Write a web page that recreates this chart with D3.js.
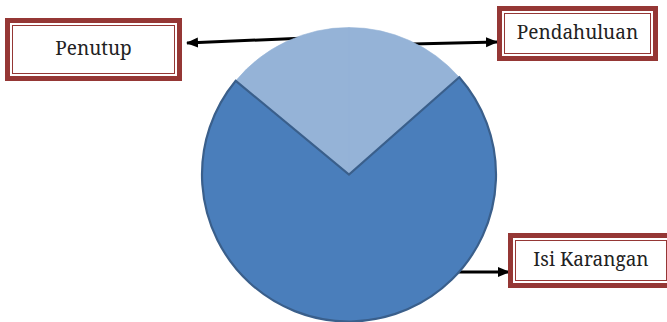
<!DOCTYPE html>
<html>
<head>
<meta charset="utf-8">
<script src="https://cdn.jsdelivr.net/npm/d3@7"></script>
<style>
  html, body { margin: 0; padding: 0; background: #fff; }
  svg { display: block; }
</style>
</head>
<body>
<div id="chart"></div>
<script>
// pie data: share of each part of an essay
const categories = ["Pendahuluan", "Isi Karangan", "Penutup"];
const values = [13.5, 72.5, 14];

const width = 667, height = 322;
const cx = 349, cy = 174.5, radius = 147;

const svg = d3.select('#chart')
  .append('svg')
  .attr('width', width)
  .attr('height', height);

// arrow head marker
svg.append('defs').append('marker')
  .attr('id', 'head')
  .attr('markerUnits', 'userSpaceOnUse')
  .attr('viewBox', '0 0 12 12')
  .attr('refX', 11)
  .attr('refY', 6)
  .attr('markerWidth', 12)
  .attr('markerHeight', 12)
  .attr('orient', 'auto')
  .append('path')
  .attr('d', 'M0,1 L12,6 L0,11 Z')
  .attr('fill', '#000');

// label boxes and arrows (layout only)
const labelLayout = {
  'Penutup':      { x: 5,   y: 18,  w: 177, h: 63, from: [330, 37], to: [187, 43] },
  'Pendahuluan':  { x: 497, y: 6,   w: 161, h: 55, from: [370, 45], to: [497, 42] },
  'Isi Karangan': { x: 508, y: 233, w: 166, h: 55, from: [440, 272], to: [509, 272] }
};

// arrows go under the pie
categories.forEach(c => {
  const L = labelLayout[c];
  svg.append('line')
    .attr('x1', L.from[0]).attr('y1', L.from[1])
    .attr('x2', L.to[0]).attr('y2', L.to[1])
    .attr('stroke', '#000')
    .attr('stroke-width', 3)
    .attr('marker-end', 'url(#head)');
});

const pie = d3.pie().sort(null).value(d => d);
const arc = d3.arc().innerRadius(0).outerRadius(radius);
const arcs = pie(values);

const g = svg.append('g').attr('transform', `translate(${cx},${cy})`);

// light slices first (no outline), main slice on top with outline
const isMain = i => categories[i] === 'Isi Karangan';
g.selectAll('path.light')
  .data(arcs.filter((d, i) => !isMain(i)))
  .enter()
  .append('path')
  .attr('class', 'light')
  .attr('d', arc)
  .attr('fill', '#95b3d7')
  .attr('stroke', '#95b3d7')
  .attr('stroke-width', 0.6);

g.selectAll('path.main')
  .data(arcs.filter((d, i) => isMain(i)))
  .enter()
  .append('path')
  .attr('class', 'main')
  .attr('d', arc)
  .attr('fill', '#4a7ebb')
  .attr('stroke', '#3a5f8b')
  .attr('stroke-width', 2.2)
  .attr('stroke-linejoin', 'miter');

// boxes with double red border
categories.forEach(c => {
  const L = labelLayout[c];
  const box = svg.append('g');
  box.append('rect')
    .attr('x', L.x).attr('y', L.y)
    .attr('width', L.w).attr('height', L.h)
    .attr('fill', '#fff');
  box.append('rect')
    .attr('x', L.x + 2.5).attr('y', L.y + 2.5)
    .attr('width', L.w - 5).attr('height', L.h - 5)
    .attr('fill', 'none')
    .attr('stroke', '#953735')
    .attr('stroke-width', 5);
  box.append('rect')
    .attr('x', L.x + 7.5).attr('y', L.y + 7.5)
    .attr('width', L.w - 15).attr('height', L.h - 15)
    .attr('fill', 'none')
    .attr('stroke', '#953735')
    .attr('stroke-width', 1);
  box.append('text')
    .attr('x', L.x + L.w / 2)
    .attr('y', L.y + L.h / 2 + 5)
    .attr('text-anchor', 'middle')
    .style('font-family', 'Noto Serif, Liberation Serif, serif')
    .style('font-size', '19px')
    .attr('fill', '#222')
    .text(c);
});
</script>
</body>
</html>
